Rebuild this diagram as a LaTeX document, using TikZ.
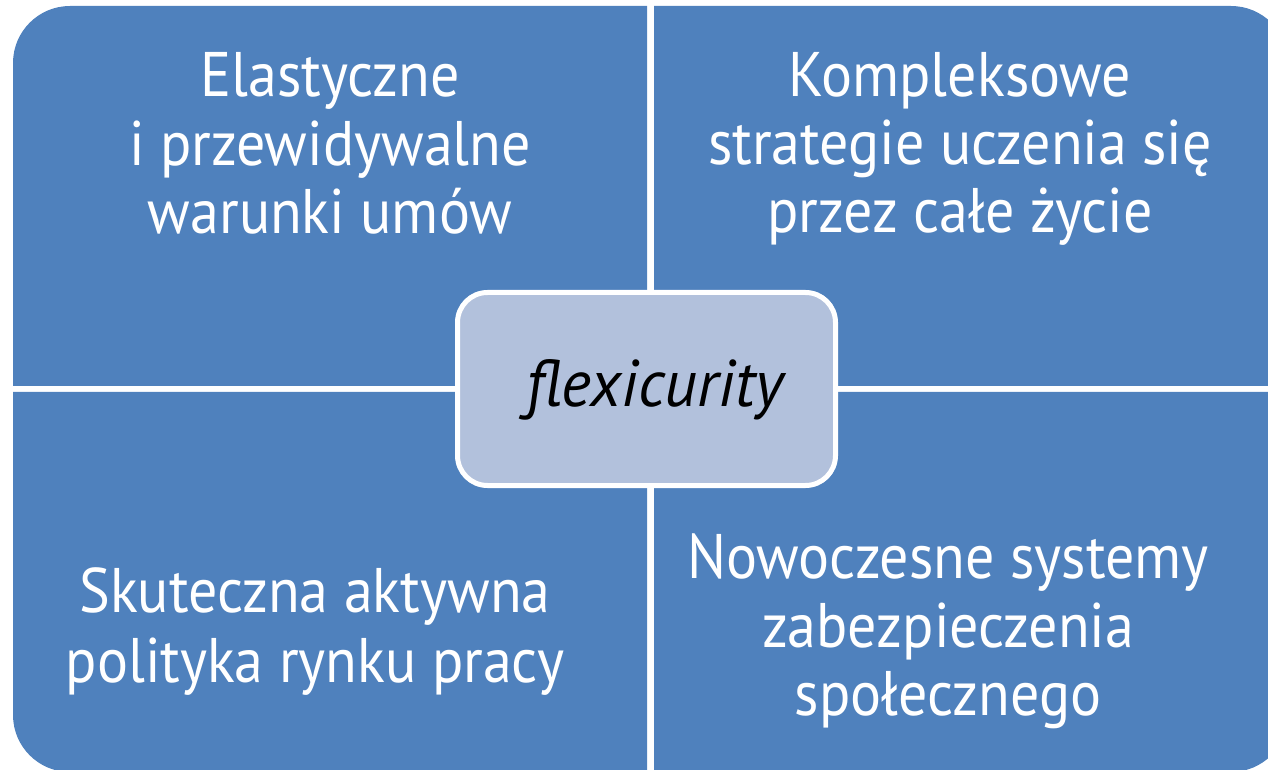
\documentclass[tikz,border=0pt]{standalone}
\usepackage{fontspec}
\setmainfont{PT Sans}[FakeStretch=0.92]
\newfontfamily\centrefont{PT Sans}[FakeStretch=0.97]
\definecolor{qblue}{HTML}{4F81BD}
\definecolor{cblue}{HTML}{B2C1DC}
\begin{document}
\begin{tikzpicture}[x=1pt,y=1pt,
  quad/.style={fill=qblue},
  qtext/.style={text=white,font=\fontsize{63}{68}\selectfont,inner sep=0pt,anchor=base},
  centerbox/.style={draw=white,line width=5pt,fill=cblue,rounded corners=30pt,
    minimum width=378pt,minimum height=193pt,inner sep=0pt},
  centretext/.style={font=\centrefont\fontsize{66}{70}\selectfont\itshape,text=black,inner sep=0pt,anchor=base}]
\useasboundingbox (0,0) rectangle (1268,769);
\begin{scope}
\clip (0,0) rectangle (1268,769);
\fill[quad] (647,383) -- (13,383) -- (13,706) arc[start angle=180,end angle=90,radius=57] -- (647,763) -- cycle;
\fill[quad] (654,383) -- (654,763) -- (1231,763) arc[start angle=90,end angle=0,radius=57] -- (1288,383) -- cycle;
\fill[quad] (647,377) -- (13,377) -- (13,54) arc[start angle=180,end angle=270,radius=57] -- (647,-3) -- cycle;
\fill[quad] (654,377) -- (1288,377) -- (1288,54) arc[start angle=0,end angle=-90,radius=57] -- (654,-3) -- cycle;
\end{scope}
% top-left
\node[qtext] (tla) at (330,672) {Elastyczne};
\node[qtext] (tlb) at (330,603) {i przewidywalne};
\node[qtext] (tlc) at (330,535) {warunki umów};
% top-right
\node[qtext] (tra) at (960,672) {Kompleksowe};
\node[qtext] (trb) at (960,604) {strategie uczenia się};
\node[qtext] (trc) at (960,536) {przez całe życie};
% bottom-left
\node[qtext] (bla) at (315,157) {Skuteczna aktywna};
\node[qtext] (blb) at (315,87) {polityka rynku pracy};
% bottom-right
\node[qtext] (bra) at (948,191) {Nowoczesne systemy};
\node[qtext] (brb) at (948,122) {zabezpieczenia};
\node[qtext] (brc) at (948,54) {społecznego};
% centre
\node[centerbox] (c) at (646.5,380) {};
\node[centretext] (ct) at (655,362) {flexicurity};
\end{tikzpicture}
\end{document}
